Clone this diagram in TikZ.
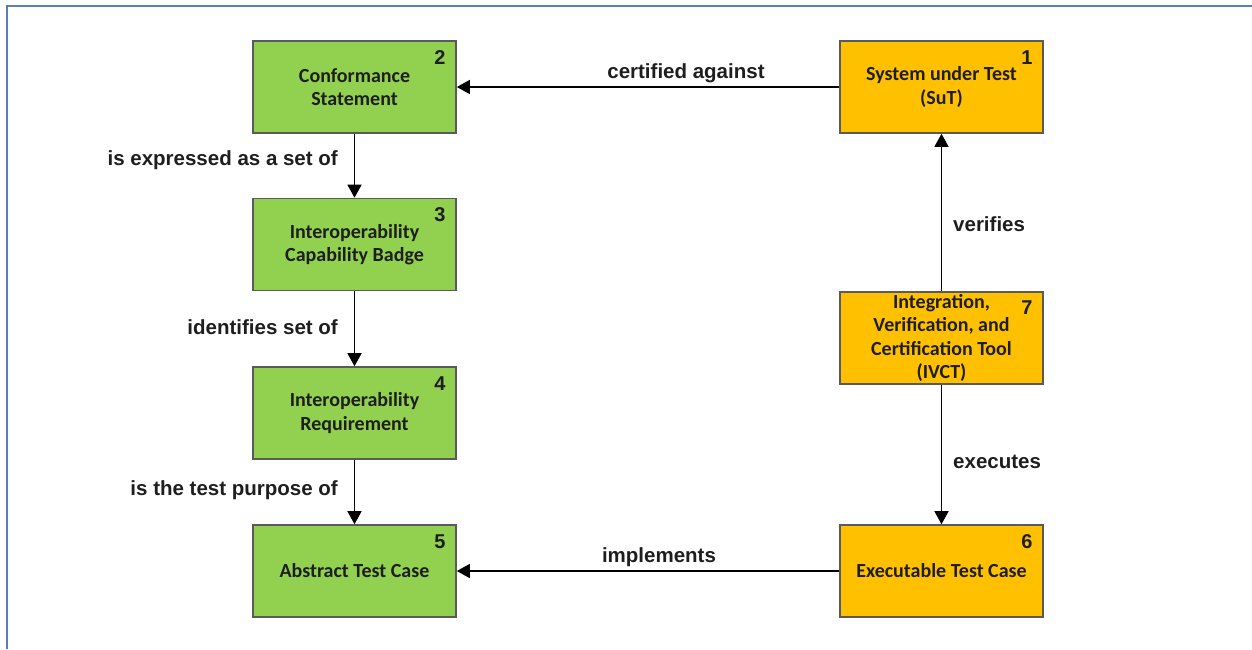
\documentclass[tikz,border=0pt]{standalone}
\usepackage{fontspec}
\setmainfont{Liberation Sans}
\newfontfamily\boxfont{Carlito}
\usetikzlibrary{arrows.meta}
\definecolor{greenfill}{HTML}{92D050}
\definecolor{orangefill}{HTML}{FFC000}
\definecolor{boxline}{HTML}{5A5A5A}
\definecolor{framecol}{HTML}{5B7DB8}
\definecolor{textdark}{HTML}{1E1E1E}
\tikzset{
  entity/.style={draw=boxline, line width=1.6pt, rectangle, minimum width=203pt,
    minimum height=92pt, inner sep=0pt, align=center, text=textdark,
    font=\boxfont\bfseries\fontsize{20}{23.5}\selectfont},
  greenbox/.style={entity, fill=greenfill},
  orangebox/.style={entity, fill=orangefill},
  num/.style={anchor=north east, inner sep=0pt, text=textdark,
    font=\bfseries\fontsize{20}{20}\selectfont},
  lbl/.style={inner sep=0pt, text=textdark, font=\bfseries\fontsize{20.5}{22}\selectfont},
  rel/.style={draw=black, line width=1.4pt, -{Triangle[length=13pt,width=14pt]}}
}
\begin{document}
\begin{tikzpicture}[x=1pt,y=-1pt]
  \useasboundingbox (0,0) rectangle (1252,649);
  % page frame
  \draw[framecol, line width=2pt] (7,649) -- (7,5.5) -- (1252,5.5);

  % left column
  \node[greenbox] (conf) at (354.5,87) {Conformance\\Statement};
  \node[greenbox] (badge) at (354.5,244.5) {Interoperability\\Capability Badge};
  \node[greenbox] (req) at (354.5,413) {Interoperability\\Requirement};
  \node[greenbox] (atc) at (354.5,571) {Abstract Test Case};

  % right column
  \node[orangebox] (sut) at (941.5,87) {System under Test\\(SuT)};
  \node[orangebox] (ivct) at (941.5,338) {Integration,\\Verification, and\\Certification Tool\\(IVCT)};
  \node[orangebox] (etc) at (941.5,571) {Executable Test Case};

  % numbers
  \node[num] at ([xshift=-11pt,yshift=-10pt]conf.north east) {2};
  \node[num] at ([xshift=-11pt,yshift=-10pt]sut.north east) {1};
  \node[num] at ([xshift=-11pt,yshift=-10pt]badge.north east) {3};
  \node[num] at ([xshift=-11pt,yshift=-10pt]req.north east) {4};
  \node[num] at ([xshift=-11pt,yshift=-10pt]atc.north east) {5};
  \node[num] at ([xshift=-11pt,yshift=-10pt]etc.north east) {6};
  \node[num] at ([xshift=-11pt,yshift=-9pt]ivct.north east) {7};

  % relations
  \draw[rel] (sut.west) -- (conf.east);
  \draw[rel] (conf.south) -- (badge.north);
  \draw[rel] (badge.south) -- (req.north);
  \draw[rel] (req.south) -- (atc.north);
  \draw[rel] (ivct.north) -- (sut.south);
  \draw[rel] (ivct.south) -- (etc.north);
  \draw[rel] (etc.west) -- (atc.east);

  % relation labels
  \node[lbl] (l1) at (686,73) {certified against};
  \node[lbl, anchor=east] (l2) at (338,160) {is expressed as a set of};
  \node[lbl, anchor=east] (l3) at (338,327) {identifies set of};
  \node[lbl, anchor=east] (l4) at (338,490) {is the test purpose of};
  \node[lbl, anchor=west] (l5) at (953,224) {verifies};
  \node[lbl, anchor=west] (l6) at (953,462) {executes};
  \node[lbl] (l7) at (659,557) {implements};
\end{tikzpicture}
\end{document}
